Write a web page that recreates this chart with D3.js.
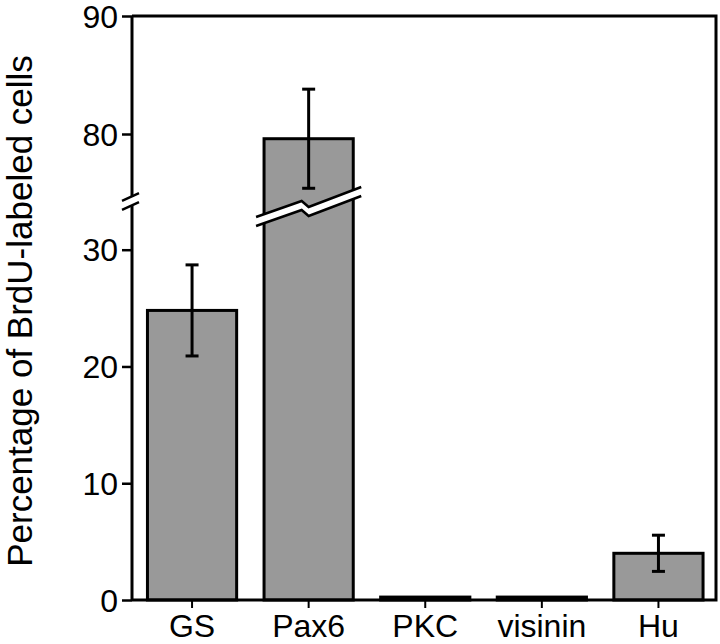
<!DOCTYPE html>
<html>
<head>
<meta charset="utf-8">
<script src="https://cdn.jsdelivr.net/npm/d3@7"></script>
<style>
  html, body { margin: 0; padding: 0; background: #fff; }
  svg { display: block; }
  text { font-family: "Liberation Sans", Arial, sans-serif; fill: #000; }
</style>
</head>
<body>
<svg id="chart" width="720" height="644"></svg>
<script>
const categories = ["GS", "Pax6", "PKC", "visinin", "Hu"];
const values = [24.8, 79.6, 0.25, 0.25, 4.0];
const errors = [3.9, 4.2, 0, 0, 1.55];
const lowerTicks = [0, 10, 20, 30];
const upperTicks = [80, 90];
const breakLow = 34;
const breakHigh = 75;
const yTitle = "Percentage of BrdU-labeled cells";

(function () {
const svg = d3.select("#chart");
const pL = 132, pR = 716, pT = 16, pB = 600;

const x = d3.scaleBand().domain(categories)
  .range([133.75, 716.75]).paddingInner(0.235).paddingOuter(0.1175);
const yLow = d3.scaleLinear().domain([0, breakLow]).range([pB, 203]);
const yHigh = d3.scaleLinear().domain([breakHigh, 90]).range([193, pT]);
const y = v => v <= breakLow ? yLow(v) : yHigh(v);

const data = categories.map((c, i) => ({ c, v: values[i], e: errors[i] }));

// bars
svg.append("g").selectAll("rect").data(data).join("rect")
  .attr("x", d => x(d.c))
  .attr("y", d => y(d.v))
  .attr("width", x.bandwidth())
  .attr("height", d => pB - y(d.v))
  .attr("fill", "#999999")
  .attr("stroke", "#000")
  .attr("stroke-width", 3);

// break zigzag on bars exceeding the break
data.filter(d => d.v > breakLow).forEach(d => {
  const cx = x(d.c) + x.bandwidth() / 2;
  const cy = (yHigh(breakHigh) + yLow(breakLow)) / 2 + 8;
  const hw = x.bandwidth() / 2 + 8;
  const up = [[cx - hw, cy + 11], [cx - 7, cy - 5], [cx, cy + 1], [cx + hw, cy - 19]];
  const th = 9;
  const lo = up.map(p => [p[0], p[1] + th]);
  svg.append("path")
    .attr("d", d3.line()(up.concat(lo.slice().reverse())) + "Z")
    .attr("fill", "#fff").attr("stroke", "none");
  [up, lo].forEach(edge => svg.append("path")
    .attr("d", d3.line()(edge)).attr("fill", "none")
    .attr("stroke", "#000").attr("stroke-width", 2.5));
});

// error bars
const eb = svg.append("g").attr("stroke", "#000").attr("stroke-width", 3);
data.filter(d => d.e > 0).forEach(d => {
  const cx = x(d.c) + x.bandwidth() / 2;
  const y1 = y(d.v + d.e), y2 = y(d.v - d.e);
  eb.append("line").attr("x1", cx).attr("x2", cx).attr("y1", y1).attr("y2", y2);
  eb.append("line").attr("x1", cx - 6.5).attr("x2", cx + 6.5).attr("y1", y1).attr("y2", y1);
  eb.append("line").attr("x1", cx - 6.5).attr("x2", cx + 6.5).attr("y1", y2).attr("y2", y2);
});

// frame: top, right, bottom
svg.append("path")
  .attr("d", `M${pL},${pT}H${pR}V${pB}H${pL}`)
  .attr("fill", "none").attr("stroke", "#000").attr("stroke-width", 3);

// y axes
function styleAxis(g) {
  g.select(".domain").remove();
  g.selectAll(".tick line").attr("stroke", "#000").attr("stroke-width", 2.5);
  g.selectAll(".tick text").style("font-size", "32px").attr("x", -14).attr("dy", "0.35em");
}
svg.append("g").attr("transform", `translate(${pL},0)`)
  .call(d3.axisLeft(yLow).tickValues(lowerTicks).tickSize(10).tickSizeOuter(0).tickFormat(d3.format("d")))
  .call(styleAxis);
svg.append("g").attr("transform", `translate(${pL},0)`)
  .call(d3.axisLeft(yHigh).tickValues(upperTicks).tickSize(10).tickSizeOuter(0).tickFormat(d3.format("d")))
  .call(styleAxis);

// y axis line with break
const yb1 = yHigh(breakHigh) + 4, yb2 = yLow(breakLow) + 3;
svg.append("line").attr("x1", pL).attr("x2", pL).attr("y1", pT).attr("y2", yb1)
  .attr("stroke", "#000").attr("stroke-width", 3);
svg.append("line").attr("x1", pL).attr("x2", pL).attr("y1", yb2).attr("y2", pB)
  .attr("stroke", "#000").attr("stroke-width", 3);
[yb1, yb2].forEach(yy => svg.append("line")
  .attr("x1", pL - 10).attr("y1", yy + 3.8).attr("x2", pL + 7).attr("y2", yy - 3.8)
  .attr("stroke", "#000").attr("stroke-width", 2.5));

// x axis
const xa = svg.append("g").attr("transform", `translate(0,${pB})`)
  .call(d3.axisBottom(x).tickSize(8).tickSizeOuter(0));
xa.select(".domain").remove();
xa.selectAll(".tick line").attr("stroke", "#000").attr("stroke-width", 2);
xa.selectAll(".tick text").style("font-size", "32px").attr("y", 37).attr("dy", 0);

// y title
svg.append("text")
  .attr("transform", "translate(32,311) rotate(-90)")
  .attr("text-anchor", "middle")
  .style("font-size", "35px")
  .text(yTitle);
})();
</script>
</body>
</html>
